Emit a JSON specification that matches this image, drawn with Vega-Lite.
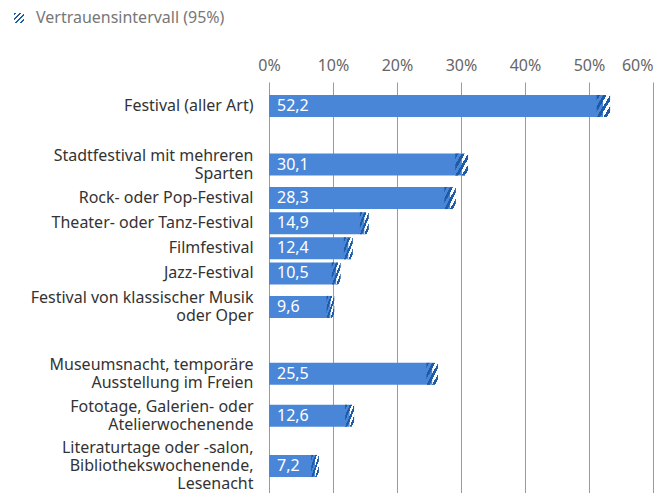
{
  "$schema": "https://vega.github.io/schema/vega-lite/v6.json",
  "autosize": {"type": "none"},
  "padding": {"left": 269, "top": 82, "right": 12, "bottom": 0},
  "width": 384,
  "height": {"step": 8.37},
  "config": {
    "font": "Noto Sans",
    "view": {"stroke": null},
    "locale": {"number": {"decimal": ",", "thousands": ".", "grouping": [3], "currency": ["", " €"]}}
  },
  "data": {
    "values": [
      {"kategorie": "Festival (aller Art)", "wert": 52.2, "unten": 51.2, "oben": 53.3},
      {"kategorie": "Stadtfestival mit mehreren|Sparten", "wert": 30.1, "unten": 29.1, "oben": 31.1},
      {"kategorie": "Rock- oder Pop-Festival", "wert": 28.3, "unten": 27.4, "oben": 29.2},
      {"kategorie": "Theater- oder Tanz-Festival", "wert": 14.9, "unten": 14.2, "oben": 15.6},
      {"kategorie": "Filmfestival", "wert": 12.4, "unten": 11.7, "oben": 13.1},
      {"kategorie": "Jazz-Festival", "wert": 10.5, "unten": 9.8, "oben": 11.2},
      {"kategorie": "Festival von klassischer Musik|oder Oper", "wert": 9.6, "unten": 9.0, "oben": 10.2},
      {"kategorie": "Museumsnacht, temporäre|Ausstellung im Freien", "wert": 25.5, "unten": 24.6, "oben": 26.4},
      {"kategorie": "Fototage, Galerien- oder|Atelierwochenende", "wert": 12.6, "unten": 11.9, "oben": 13.3},
      {"kategorie": "Literaturtage oder -salon,|Bibliothekswochenende,|Lesenacht", "wert": 7.2, "unten": 6.6, "oben": 7.8}
    ]
  },
  "encoding": {
    "y": {
      "field": "kategorie",
      "type": "nominal",
      "title": null,
      "scale": {
        "domain": [
          "_a", "_b",
          "Festival (aller Art)", "_1", "_2", "_3", "_4", "_5", "_6",
          "Stadtfestival mit mehreren|Sparten", "_7", "_8", "_9",
          "Rock- oder Pop-Festival", "_10", "_11",
          "Theater- oder Tanz-Festival", "_12", "_13",
          "Filmfestival", "_14", "_15",
          "Jazz-Festival", "_16", "_17", "_18",
          "Festival von klassischer Musik|oder Oper", "_19", "_20", "_21", "_22", "_23", "_24", "_25",
          "Museumsnacht, temporäre|Ausstellung im Freien", "_26", "_27", "_28", "_29",
          "Fototage, Galerien- oder|Atelierwochenende", "_30", "_31", "_32", "_33", "_34",
          "Literaturtage oder -salon,|Bibliothekswochenende,|Lesenacht", "_x", "_y", "_z"
        ],
        "paddingInner": 0,
        "paddingOuter": 0.37
      },
      "axis": {
        "orient": "left",
        "domain": false,
        "ticks": false,
        "tickSize": 0,
        "grid": false,
        "labelPadding": 16,
        "labelFontSize": 16,
        "labelColor": "#333333",
        "labelLimit": 320,
        "labelLineHeight": 18,
        "labelOverlap": false,
        "labelBaseline": "middle",
        "labelOffset": {
          "condition": [
            {"test": "indexof(datum.label, 'Lesenacht') >= 0", "value": -18},
            {"test": "indexof(datum.label, '|') >= 0", "value": -9}
          ],
          "value": 0
        },
        "labelExpr": "indexof(datum.label, '_') === 0 ? '' : split(datum.label, '|')"
      }
    }
  },
  "layer": [
    {
      "mark": {"type": "bar", "height": 22, "color": "#4a86d8"},
      "encoding": {
        "x": {
          "field": "wert",
          "type": "quantitative",
          "title": null,
          "scale": {"domain": [0, 60], "nice": false},
          "axis": {
            "orient": "top",
            "values": [0, 10, 20, 30, 40, 50, 60],
            "domain": false,
            "ticks": false,
            "tickSize": 0,
            "grid": true,
            "gridColor": "#9a9a9a",
            "gridOpacity": 1,
            "labelPadding": 8,
            "labelFontSize": 16,
            "labelColor": "#666666",
            "labelFlush": false,
            "labelExpr": "datum.value + '%'",
            "labelAlign": {"condition": {"test": "datum.value === 60", "value": "right"}, "value": "center"}
          }
        }
      }
    },
    {
      "mark": {
        "type": "bar",
        "height": 22,
        "fill": {
          "gradient": "linear",
          "x1": 0, "y1": 0, "x2": 1, "y2": 1,
          "stops": [
            {"offset": 0, "color": "#1d5ba6"},
            {"offset": 0.125, "color": "#1d5ba6"},
            {"offset": 0.125, "color": "rgba(255,255,255,0)"},
            {"offset": 0.25, "color": "rgba(255,255,255,0)"},
            {"offset": 0.25, "color": "#1d5ba6"},
            {"offset": 0.375, "color": "#1d5ba6"},
            {"offset": 0.375, "color": "rgba(255,255,255,0)"},
            {"offset": 0.5, "color": "rgba(255,255,255,0)"},
            {"offset": 0.5, "color": "#1d5ba6"},
            {"offset": 0.625, "color": "#1d5ba6"},
            {"offset": 0.625, "color": "rgba(255,255,255,0)"},
            {"offset": 0.75, "color": "rgba(255,255,255,0)"},
            {"offset": 0.75, "color": "#1d5ba6"},
            {"offset": 0.875, "color": "#1d5ba6"},
            {"offset": 0.875, "color": "rgba(255,255,255,0)"},
            {"offset": 1, "color": "rgba(255,255,255,0)"}
          ]
        }
      },
      "encoding": {
        "x": {"field": "unten", "type": "quantitative"},
        "x2": {"field": "oben"},
        "opacity": {
          "datum": "Vertrauensintervall (95%)",
          "type": "nominal",
          "scale": {"range": [1]},
          "legend": {
            "title": null,
            "orient": "none",
            "legendX": -258,
            "legendY": -72,
            "symbolType": "square",
            "symbolSize": 100,
            "symbolStrokeWidth": 0,
            "labelFontSize": 16,
            "labelColor": "#777777",
            "labelOffset": 9,
            "labelLimit": 400,
            "encode": {
              "symbols": {
                "update": {
                  "opacity": {"value": 1},
                  "strokeWidth": {"value": 0},
                  "fill": {
                    "value": {
                      "gradient": "linear",
                      "x1": 0, "y1": 0, "x2": 1, "y2": 1,
                      "stops": [
                        {"offset": 0, "color": "#ffffff"},
                        {"offset": 0.1, "color": "#ffffff"},
                        {"offset": 0.1, "color": "#2f66b0"},
                        {"offset": 0.3, "color": "#2f66b0"},
                        {"offset": 0.3, "color": "#ffffff"},
                        {"offset": 0.45, "color": "#ffffff"},
                        {"offset": 0.45, "color": "#2f66b0"},
                        {"offset": 0.65, "color": "#2f66b0"},
                        {"offset": 0.65, "color": "#ffffff"},
                        {"offset": 0.8, "color": "#ffffff"},
                        {"offset": 0.8, "color": "#2f66b0"},
                        {"offset": 1, "color": "#2f66b0"}
                      ]
                    }
                  }
                }
              }
            }
          }
        }
      }
    },
    {
      "mark": {"type": "text", "align": "left", "baseline": "middle", "dx": 8, "color": "white", "fontSize": 16},
      "encoding": {
        "x": {"datum": 0, "type": "quantitative"},
        "text": {"field": "wert", "type": "quantitative", "format": ".1f"}
      }
    }
  ]
}
